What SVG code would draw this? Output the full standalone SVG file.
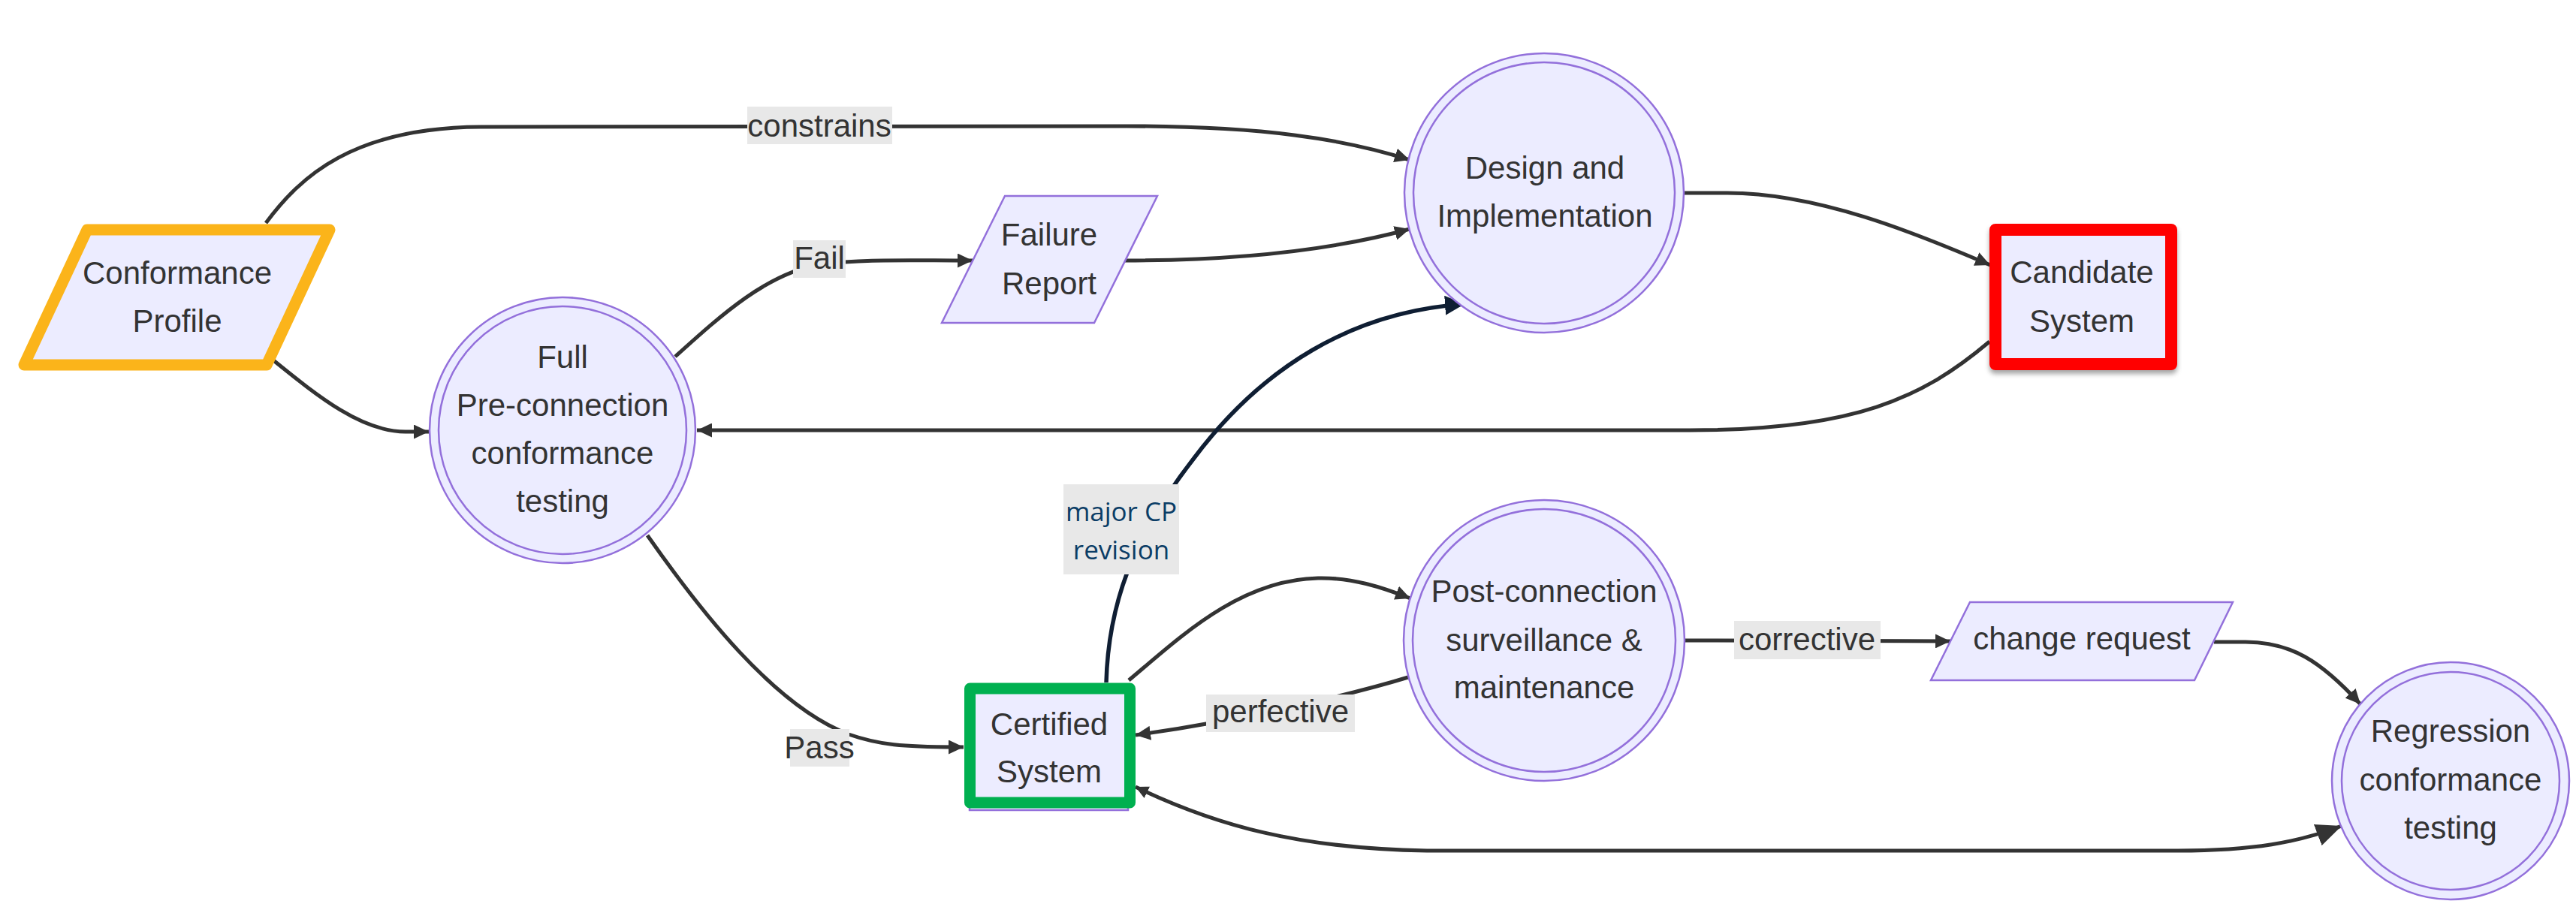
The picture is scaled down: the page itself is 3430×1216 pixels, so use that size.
<svg xmlns="http://www.w3.org/2000/svg" width="3430" height="1216" viewBox="0 0 3430 1216">
<defs>
<style>
.node{fill:#ECECFF;stroke:#9370DB;stroke-width:2.5}
.t{font-family:"Trebuchet MS","Liberation Sans",Arial,sans-serif;font-size:42px;fill:#333;text-anchor:middle}
.e{fill:none;stroke:#333;stroke-width:5}
.en{fill:none;stroke:#0f1e33;stroke-width:5.5}
.lbg{fill:#e8e8e8}
.lt{font-family:"Open Sans","Noto Sans",sans-serif;font-size:35px;fill:#0b3d66;text-anchor:middle}
</style>
<marker id="arr" viewBox="0 0 10 10" refX="10" refY="5" markerWidth="20" markerHeight="19" markerUnits="userSpaceOnUse" orient="auto" preserveAspectRatio="none"><path d="M0,0 L10,5 L0,10 z" fill="#333"/></marker>
<marker id="arrS" viewBox="0 0 10 10" refX="10" refY="5" markerWidth="17" markerHeight="17" markerUnits="userSpaceOnUse" orient="auto-start-reverse"><path d="M0,0 L10,5 L0,10 z" fill="#333"/></marker>
<marker id="arrL" viewBox="0 0 10 10" refX="10" refY="5" markerWidth="34" markerHeight="30" markerUnits="userSpaceOnUse" orient="auto" preserveAspectRatio="none"><path d="M0,0 L10,5 L0,10 z" fill="#333"/></marker>
<marker id="arrN" viewBox="0 0 10 10" refX="10" refY="5" markerWidth="26" markerHeight="26" markerUnits="userSpaceOnUse" orient="auto"><path d="M0,0 L10,5 L0,10 z" fill="#0f1e33"/></marker>
<filter id="shadow" x="-10%" y="-10%" width="120%" height="130%"><feDropShadow dx="0" dy="5" stdDeviation="3" flood-color="#000" flood-opacity="0.35"/></filter>
</defs>
<rect width="3430" height="1216" fill="#ffffff"/>

<g id="connectors">
<path class="e" d="M354,297 C400,235 470,170 640,169 L1500,168 C1680,168 1790,185 1877,213" marker-end="url(#arr)"/>
<path class="e" d="M363,479 C420,525 480,575 540,575 L571,575" marker-end="url(#arr)"/>
<path class="e" d="M899,475 C960,420 1020,365 1091,352 C1150,345 1200,347 1295,347" marker-end="url(#arr)"/>
<path class="e" d="M1497,347 C1600,347 1750,340 1877,305" marker-end="url(#arr)"/>
<path class="e" d="M2243,257 L2300,257 C2420,257 2550,310 2650,353" marker-end="url(#arr)"/>
<path class="e" d="M2649,455 C2560,530 2470,573 2250,573 L928,573" marker-end="url(#arr)"/>
<path class="e" d="M862,713 C930,810 1030,940 1130,978 C1170,992 1200,995 1283,995" marker-end="url(#arr)"/>
<path class="en" d="M1473,909 C1476,790 1520,700 1590,610 C1680,490 1800,415 1950,405" marker-end="url(#arrN)"/>
<path class="e" d="M1503,906 C1570,850 1650,772 1755,770 C1800,769 1840,782 1878,797" marker-end="url(#arr)"/>
<path class="e" d="M1875,902 C1800,925 1650,960 1512,979" marker-end="url(#arr)"/>
<path class="e" d="M2244,853 L2597,854" marker-end="url(#arr)"/>
<path class="e" d="M2948,855 L2990,855 C3050,855 3090,880 3143,938" marker-end="url(#arr)"/>
<path class="e" d="M1512,1048 C1620,1100 1730,1130 1900,1133 L2900,1133 C3000,1133 3060,1122 3118,1100" marker-start="url(#arrS)" marker-end="url(#arrL)"/>

<g id="edge-labels">
<rect class="lbg" x="995" y="142" width="193" height="50"/>
<text class="t" x="1091" y="182">constrains</text>
<rect class="lbg" x="1056" y="320" width="70" height="50"/>
<text class="t" x="1091" y="358">Fail</text>
<rect class="lbg" x="1052" y="971" width="79" height="50"/>
<text class="t" x="1091" y="1010">Pass</text>
<rect class="lbg" x="1416" y="645" width="154" height="120"/>
<text class="lt" x="1493" y="694">major CP</text>
<text class="lt" x="1493" y="745">revision</text>
<rect class="lbg" x="1606" y="925" width="198" height="50"/>
<text class="t" x="1705" y="962">perfective</text>
<rect class="lbg" x="2309" y="827" width="195" height="51"/>
<text class="t" x="2406" y="866">corrective</text>
</g>
</g>

<g id="conformance-profile">
<polygon points="116,306 439,306 355,486 32,486" fill="#ECECFF" stroke="#FBB41A" stroke-width="15" stroke-linejoin="round"/>
<text class="t" x="236" y="378">Conformance</text>
<text class="t" x="236" y="442">Profile</text>
</g>

<g id="full-preconnection">
<circle class="node" cx="749" cy="573" r="177"/>
<circle class="node" cx="749" cy="573" r="165"/>
<text class="t" x="749" y="490">Full</text>
<text class="t" x="749" y="554">Pre-connection</text>
<text class="t" x="749" y="618">conformance</text>
<text class="t" x="749" y="682">testing</text>
</g>

<g id="failure-report">
<polygon class="node" points="1338,261 1541,261 1457,430 1254,430"/>
<text class="t" x="1397" y="327">Failure</text>
<text class="t" x="1397" y="392">Report</text>
</g>

<g id="design-implementation">
<circle class="node" cx="2056" cy="257" r="186"/>
<circle class="node" cx="2056" cy="257" r="174"/>
<text class="t" x="2057" y="238">Design and</text>
<text class="t" x="2057" y="302">Implementation</text>
</g>

<g id="candidate-system">
<rect x="2657" y="306" width="234" height="179" fill="#ECECFF" stroke="#FF0000" stroke-width="16" stroke-linejoin="round" filter="url(#shadow)"/>
<text class="t" x="2772" y="377">Candidate</text>
<text class="t" x="2772" y="442">System</text>
</g>

<g id="certified-system">
<rect class="node" x="1291" y="924" width="211" height="155"/>
<rect x="1291.5" y="917" width="213" height="152" fill="#ECECFF" stroke="#00B050" stroke-width="15" stroke-linejoin="round"/>
<text class="t" x="1397" y="979">Certified</text>
<text class="t" x="1397" y="1042">System</text>
</g>

<g id="post-connection">
<circle class="node" cx="2056" cy="853" r="187"/>
<circle class="node" cx="2056" cy="853" r="175"/>
<text class="t" x="2056" y="802">Post-connection</text>
<text class="t" x="2056" y="867">surveillance &amp;</text>
<text class="t" x="2056" y="930">maintenance</text>
</g>

<g id="change-request">
<polygon class="node" points="2623,802 2973,802 2922,906 2571,906"/>
<text class="t" x="2772" y="865">change request</text>
</g>

<g id="regression">
<circle class="node" cx="3263" cy="1040" r="158"/>
<circle class="node" cx="3263" cy="1040" r="145"/>
<text class="t" x="3263" y="988">Regression</text>
<text class="t" x="3263" y="1053">conformance</text>
<text class="t" x="3263" y="1117">testing</text>
</g>
</svg>
